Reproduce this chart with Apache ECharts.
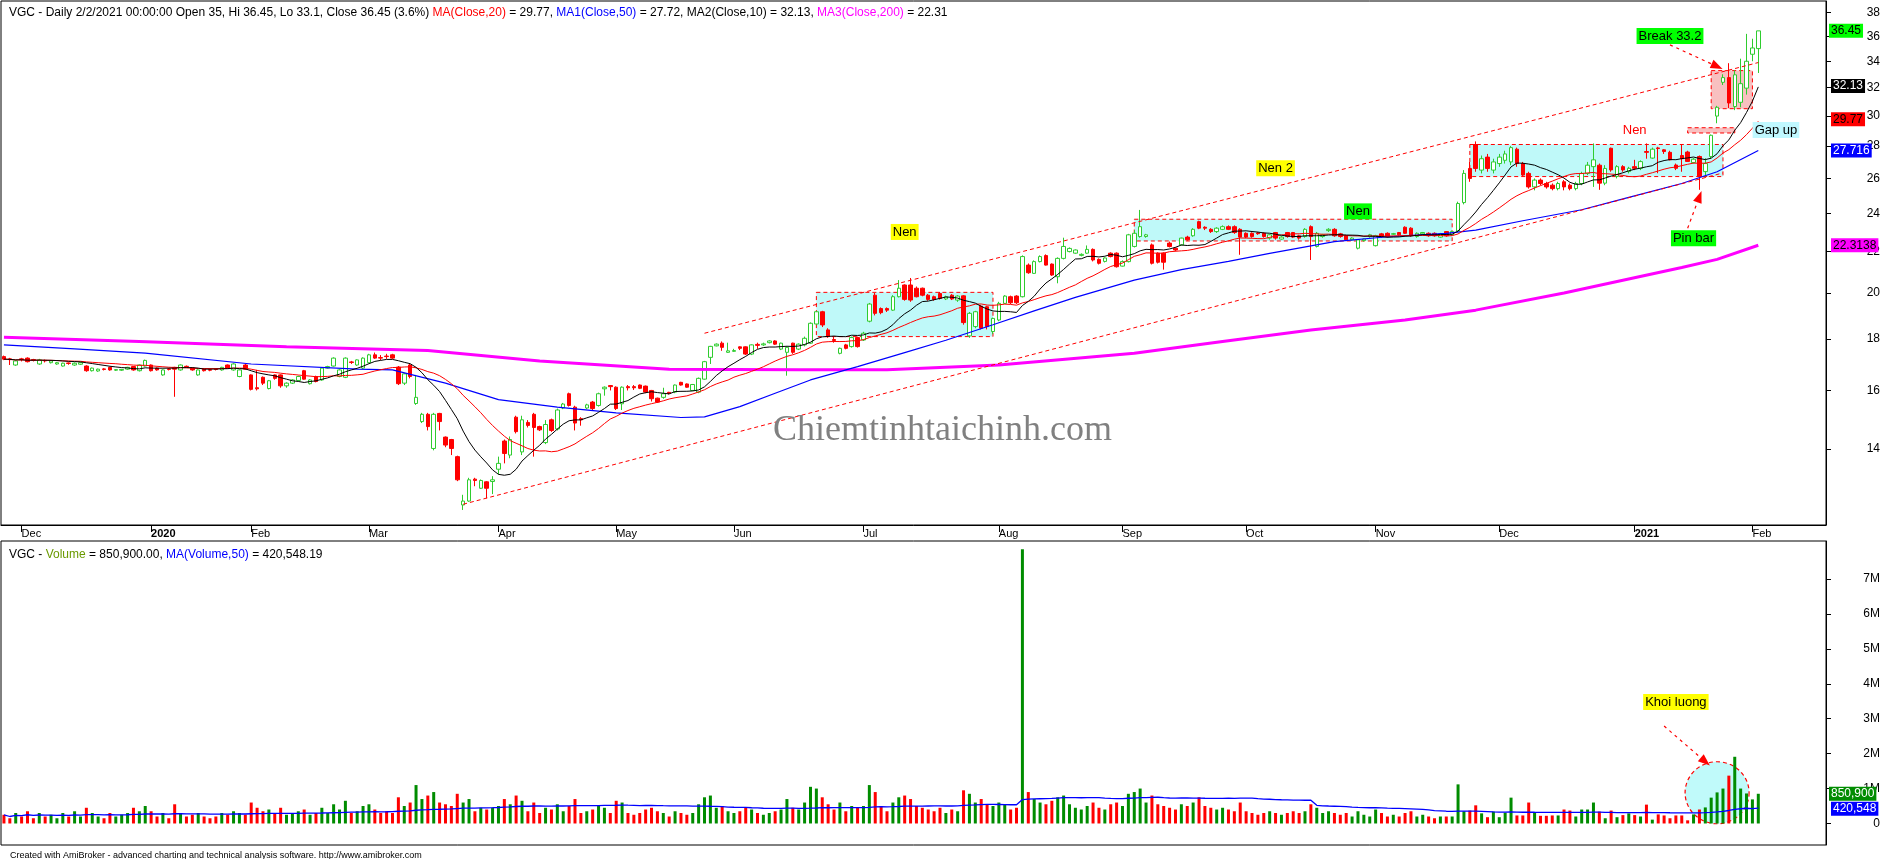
<!DOCTYPE html>
<html><head><meta charset="utf-8">
<script src="https://cdn.jsdelivr.net/npm/echarts@6/dist/echarts.min.js"></script>
<style>html,body{margin:0;padding:0;background:#fff}#c{width:1884px;height:859px}</style>
</head><body><div id="c"></div>
<script>
// ---------------- DATA ----------------
// daily candles [open, close, low, high], 27 Nov 2019 .. 2 Feb 2021
const candles = [
[17.29,17.19,17.15,17.33],[17.2,17.17,16.96,17.24],[16.96,17.12,16.93,17.15],[17.2,17.17,17.1,17.24],[17.23,17.09,17.06,17.26],
[17.17,17.15,17.1,17.2],[17.0,17.16,16.97,17.2],[17.14,17.12,17.06,17.17],[17.05,17.12,17.02,17.15],[17.0,17.05,16.97,17.08],
[16.92,17.03,16.9,17.05],[17.04,17.02,16.97,17.06],[16.96,17.03,16.93,17.06],[16.99,17.05,16.96,17.08],[16.92,16.74,16.7,16.95],
[16.74,16.84,16.71,16.86],[16.73,16.8,16.7,16.82],[16.81,16.79,16.75,16.84],[16.87,16.77,16.74,16.89],[16.76,16.78,16.73,16.8],
[16.76,16.79,16.73,16.81],[16.8,16.87,16.77,16.89],[16.9,16.77,16.74,16.92],[16.74,16.96,16.71,16.98],[16.92,17.14,16.9,17.17],
[16.96,16.74,16.71,16.98],[16.84,16.77,16.74,16.86],[16.58,16.77,16.55,16.79],[16.81,16.79,16.75,16.84],[16.87,16.8,15.77,16.89],
[16.77,16.96,16.74,16.98],[16.91,16.89,16.85,16.94],[16.84,16.77,16.74,16.86],[16.58,16.77,16.55,16.79],[16.8,16.74,16.71,16.82],
[16.78,16.76,16.72,16.8],[16.81,16.79,16.75,16.83],[16.77,16.87,16.74,16.89],[16.96,16.84,16.82,16.98],[16.77,17.0,16.74,17.03],
[16.52,16.77,16.49,16.79],[16.96,16.8,16.77,17.0],[16.58,16.04,16.0,16.6],[16.1,16.06,16.0,16.77],[16.49,16.27,16.2,16.52],
[16.07,16.36,16.04,16.39],[16.58,16.45,16.4,16.6],[16.58,16.17,16.1,16.6],[16.17,16.27,16.1,16.3],[16.27,16.39,16.24,16.42],
[16.37,16.52,16.34,16.55],[16.74,16.42,16.4,16.77],[16.25,16.39,16.22,16.42],[16.52,16.33,16.3,16.55],[16.39,16.84,16.36,16.87],
[16.84,16.9,16.82,16.93],[16.92,17.23,16.9,17.26],[16.52,16.77,16.49,16.8],[16.49,17.23,16.46,17.26],[17.08,17.06,17.0,17.12],
[16.96,17.16,16.93,17.18],[16.84,17.23,16.8,17.26],[17.05,17.36,17.03,17.4],[17.36,17.23,17.2,17.45],[17.25,17.23,17.15,17.35],
[17.31,17.29,17.2,17.4],[17.36,17.23,17.2,17.4],[16.88,16.25,16.2,16.92],[16.27,16.62,16.2,16.65],[16.96,16.52,16.45,17.0],
[15.53,15.75,15.48,16.58],[14.9,15.15,14.85,15.2],[15.15,14.73,14.6,15.2],[14.01,15.15,13.95,15.2],[15.18,14.9,14.6,15.2],
[14.38,14.12,14.05,14.4],[14.3,14.01,13.8,14.32],[13.75,13.04,13.0,13.78],[12.31,12.42,12.17,12.6],[12.42,13.04,12.4,13.1],
[13.06,13.02,12.85,13.1],[12.79,13.02,12.77,13.05],[12.98,12.79,12.5,13.0],[12.99,13.04,12.62,13.15],[13.36,13.54,13.2,13.75],
[14.25,13.85,13.54,14.3],[13.8,14.3,13.7,14.4],[15.05,14.56,14.5,15.1],[13.9,14.96,13.8,15.1],[14.87,14.77,14.7,14.95],
[15.15,14.7,13.75,15.2],[14.73,14.62,14.58,14.76],[14.2,14.8,14.15,14.95],[14.96,14.6,14.55,15.0],[14.65,15.3,14.6,15.35],
[15.37,15.51,15.33,15.55],[15.88,15.46,15.42,15.92],[15.4,14.85,14.6,15.45],[15.0,14.96,14.76,15.05],[15.37,15.48,15.33,15.52],
[15.58,15.35,15.3,15.62],[15.46,15.88,15.42,15.92],[16.06,16.12,15.81,16.15],[16.18,16.14,16.0,16.2],[16.12,15.35,15.3,16.15],
[15.52,16.12,15.3,16.15],[16.14,16.1,16.0,16.2],[16.14,16.1,16.02,16.2],[16.2,16.08,16.05,16.22],[16.16,15.94,15.9,16.18],
[16.0,15.7,15.6,16.02],[15.72,15.58,15.55,15.74],[15.75,15.88,15.7,16.1],[15.93,15.9,15.85,15.95],[15.94,16.2,15.9,16.22],
[16.3,16.2,16.18,16.32],[16.24,16.12,16.1,16.26],[16.0,16.22,15.98,16.24],[15.94,16.45,15.9,16.48],[16.42,17.09,16.4,17.12],
[17.26,17.7,17.0,17.72],[17.72,17.79,17.7,17.82],[17.83,17.66,17.52,17.9],[17.46,17.52,17.44,17.85],[17.5,17.53,17.48,17.6],
[17.68,17.62,17.55,17.7],[17.68,17.39,17.35,17.7],[17.39,17.76,17.35,17.78],[17.78,17.74,17.6,17.85],[17.76,17.8,17.72,17.85],
[17.85,17.92,17.82,17.95],[17.92,17.79,17.76,17.95],[17.59,17.83,17.55,17.85],[17.46,17.66,16.55,17.7],[17.83,17.46,17.4,17.85],
[17.59,17.79,17.55,17.82],[17.76,18.03,17.7,18.1],[17.83,18.66,17.8,18.7],[18.63,19.16,18.6,19.2],[19.16,18.59,18.5,19.2],
[18.38,18.1,18.05,18.45],[17.98,17.94,17.85,18.1],[17.42,17.62,17.38,17.65],[17.76,17.62,17.58,17.8],[17.69,18.06,17.65,18.1],
[18.06,17.69,17.65,18.1],[17.96,18.24,17.92,18.3],[18.75,19.5,18.7,19.55],[19.9,19.09,19.0,20.0],[19.3,19.12,19.05,19.35],
[19.3,19.23,19.15,19.35],[19.23,19.83,19.2,19.9],[19.83,20.22,19.8,20.6],[20.37,19.71,19.65,20.4],[20.37,19.68,19.6,20.7],
[20.22,19.83,19.8,20.3],[20.22,19.9,19.85,20.25],[19.9,19.71,19.65,19.95],[19.83,19.71,19.65,19.88],[19.98,19.75,19.7,20.05],
[19.73,19.83,19.68,19.88],[19.9,19.73,19.68,19.95],[19.68,19.86,19.6,19.9],[19.87,18.69,18.6,19.9],[18.13,19.09,18.05,19.15],
[18.52,19.16,18.45,19.2],[19.41,18.45,18.4,19.45],[19.38,18.52,18.4,19.42],[18.31,18.87,18.2,18.9],[18.8,19.53,18.75,19.6],
[19.53,19.86,19.5,19.9],[19.83,19.56,19.5,19.88],[19.86,19.56,19.5,19.9],[19.83,21.74,19.8,21.8],[21.32,20.95,20.9,21.4],
[20.92,21.49,20.9,21.55],[21.49,21.74,21.45,21.8],[21.79,21.32,21.3,21.85],[21.37,20.84,20.8,21.4],[20.76,21.65,20.45,21.7],
[21.65,22.25,21.6,22.7],[21.99,22.15,21.95,22.2],[21.91,22.07,21.88,22.1],[21.8,21.85,21.75,21.9],[21.91,22.1,21.88,22.3],
[22.1,21.57,21.5,22.15],[21.6,21.41,21.35,21.65],[21.5,21.67,21.45,21.7],[21.91,21.74,21.7,21.95],[21.91,21.24,21.2,21.95],
[21.27,21.49,21.25,21.55],[21.49,22.85,21.45,22.9],[22.25,22.93,22.2,23.1],[22.76,23.28,22.7,24.19],[22.76,22.85,22.7,22.9],
[22.33,21.41,21.35,22.4],[21.91,21.46,21.4,21.95],[21.91,21.46,21.1,21.95],[22.42,22.25,22.2,22.5],[22.16,22.07,22.0,22.2],
[22.33,22.68,22.3,22.7],[22.73,22.59,22.55,22.8],[22.8,23.14,22.75,23.2],[23.55,23.2,23.15,23.6],[23.25,23.2,23.1,23.3],
[23.14,23.02,22.95,23.2],[23.02,23.2,22.95,23.25],[23.14,23.28,23.1,23.35],[23.28,23.14,23.1,23.35],[23.28,22.97,22.9,23.35],
[23.14,22.73,21.83,23.2],[22.93,22.73,22.68,22.98],[22.93,22.76,22.7,22.98],[22.95,22.91,22.85,23.0],[22.93,22.76,22.7,22.98],
[22.68,22.85,22.6,22.9],[22.97,22.68,22.6,23.0],[22.63,22.73,22.6,22.78],[22.97,22.76,22.7,23.0],[22.97,22.73,22.68,23.0],
[22.8,22.68,22.6,22.85],[22.76,23.14,22.7,23.2],[23.28,22.76,21.57,23.35],[22.25,22.93,22.2,23.0],[22.76,22.85,22.7,22.9],
[23.07,23.14,23.0,23.2],[23.14,22.8,22.75,23.2],[22.9,22.76,22.7,22.95],[22.8,22.59,22.55,22.85],[22.59,22.68,22.55,22.72],
[22.16,22.59,22.1,22.63],[22.55,22.63,22.5,22.66],[22.76,22.85,22.7,22.9],[22.29,22.8,22.25,22.85],[22.9,22.76,22.7,22.95],
[22.93,22.76,22.7,22.98],[22.88,22.91,22.85,22.95],[22.97,22.85,22.8,23.0],[23.25,22.93,22.9,23.3],[23.2,22.8,22.75,23.25],
[22.76,22.93,22.7,22.98],[22.9,22.97,22.85,23.0],[22.93,22.8,22.75,22.98],[22.93,22.8,22.75,22.98],[22.73,22.9,22.7,22.95],
[23.02,22.8,22.75,23.05],[22.85,23.02,22.8,23.07],[23.05,24.55,23.0,24.65],[24.6,26.3,24.5,26.5],[26.6,26.0,25.8,27.0],
[28.1,26.6,26.4,28.3],[26.5,27.2,26.3,27.4],[27.3,26.6,26.4,27.5],[26.5,27.0,26.3,27.2],[26.9,27.3,26.7,27.5],
[27.1,27.5,26.9,27.7],[27.0,27.9,26.8,28.0],[27.8,26.9,26.7,27.9],[26.9,26.2,26.1,27.0],[26.3,25.5,25.4,26.4],
[25.5,25.9,25.3,26.0],[25.9,25.7,25.6,26.0],[25.7,25.5,25.4,25.8],[25.6,25.4,25.3,25.7],[25.4,25.7,25.3,25.8],
[25.8,25.5,25.3,25.9],[25.6,25.4,25.3,25.7],[25.4,25.7,25.3,25.8],[25.7,26.3,25.6,26.4],[26.3,26.8,26.2,27.0],
[26.71,27.13,25.5,28.17],[26.8,25.72,25.33,26.9],[25.72,26.6,25.6,26.8],[27.86,26.51,26.4,27.9],[26.11,26.71,26.0,26.8],
[26.71,26.51,26.4,26.8],[26.41,26.61,26.3,26.7],[26.71,26.61,26.5,27.13],[26.61,27.02,26.5,27.1],[27.65,27.6,27.2,28.17],
[27.24,27.8,27.2,27.9],[27.88,27.84,26.31,27.95],[27.76,27.65,27.5,27.8],[27.6,27.13,27.1,27.7],[26.81,26.61,26.5,26.9],
[27.4,27.2,26.4,28.12],[27.62,27.03,27.0,27.7],[26.96,27.17,26.9,27.25],[27.34,26.11,25.33,27.4],[26.41,26.9,26.11,27.23],
[27.34,28.7,27.2,28.75],[29.99,30.6,29.5,30.7],[32.4,32.75,32.2,33.0],[32.75,30.9,30.55,33.85],[30.65,32.96,30.4,33.3],
[30.95,32.3,30.6,34.2],[31.97,34.0,31.5,36.2],[34.55,35.05,34.0,35.8],[35.0,36.45,33.1,36.45]
];

// daily volume, millions of shares
const volumeM = [
0.25,0.15,0.3,0.2,0.35,0.15,0.3,0.2,0.25,0.15,0.3,0.2,0.35,0.2,0.45,0.3,0.2,0.15,0.3,0.2,0.25,0.3,0.45,0.35,0.5,
0.35,0.2,0.3,0.15,0.55,0.3,0.2,0.25,0.3,0.2,0.15,0.2,0.3,0.25,0.35,0.3,0.25,
0.6,0.45,0.35,0.4,0.3,0.45,0.25,0.3,0.35,0.4,0.25,0.3,0.45,0.3,0.55,0.4,0.65,0.3,0.35,0.5,
0.55,0.4,0.3,0.35,0.3,0.75,0.5,0.6,1.1,0.7,0.8,0.9,0.6,0.55,0.5,0.85,0.6,0.7,0.35,0.45,0.4,0.45,
0.5,0.7,0.55,0.8,0.65,0.35,0.6,0.3,0.45,0.4,0.55,0.35,0.5,0.7,0.3,0.35,0.4,0.5,0.45,0.3,
0.65,0.6,0.3,0.25,0.3,0.4,0.45,0.35,0.3,0.2,0.35,0.3,0.25,0.3,0.55,0.75,0.8,0.45,0.5,0.35,
0.3,0.35,0.45,0.4,0.3,0.25,0.3,0.35,0.4,0.7,0.45,0.4,0.6,1.05,1.0,0.75,0.55,0.4,0.6,0.35,0.5,0.45,
0.5,1.1,0.9,0.5,0.35,0.6,0.75,0.8,0.7,0.5,0.45,0.4,0.35,0.45,0.3,0.4,0.35,0.95,0.85,0.6,0.7,0.55,0.5,0.6,0.55,0.4,0.45,
7.85,
0.9,0.7,0.6,0.55,0.65,0.75,0.8,0.55,0.45,0.4,0.5,0.6,0.45,0.4,0.55,0.6,
0.5,0.85,0.9,1.0,0.6,0.8,0.55,0.5,0.45,0.4,0.55,0.5,0.6,0.75,0.5,0.45,0.4,0.45,0.4,0.35,0.6,
0.35,0.3,0.25,0.3,0.35,0.3,0.25,0.3,0.35,0.3,0.35,0.55,0.45,0.3,0.35,0.3,0.25,0.3,0.2,0.35,0.25,0.2,0.4,0.3,0.2,0.25,0.2,0.3,0.35,0.2,0.25,0.2,0.15,0.2,0.2,
0.2,1.12,0.35,0.37,0.52,0.29,0.18,0.34,0.18,0.31,0.74,0.23,0.23,0.6,0.31,0.22,0.22,0.23,0.23,0.4,
0.37,0.2,0.4,0.4,0.6,0.34,0.15,0.37,0.18,0.24,0.29,0.24,0.2,0.54,0.11,0.26,0.23,0.15,0.23,0.23,
0.09,0.26,0.4,0.46,0.74,0.89,1.0,1.37,1.91,1.0,0.86,0.69,0.8509
];

// moving averages: [bar index, value]
const ma50Points = [[0,17.76],[12,17.6],[24,17.43],[42,17.0],[60,16.8],[66,16.77],[75,16.27],[84,15.67],[94,15.4],[104,15.2],[115,15.04],[119,15.06],[125,15.42],[131,15.9],[137,16.39],[145,16.9],[153,17.45],[160,17.95],[168,18.6],[175,19.2],[182,19.8],[192,20.6],[200,21.1],[208,21.5],[215,21.9],[226,22.5],[235,22.75],[245,22.93],[250,23.1],[258,23.6],[268,24.2],[276,24.9],[285,25.7],[291,26.4],[298,27.72]];
const ma200Points = [[0,18.07],[23,17.9],[48,17.68],[72,17.53],[91,17.12],[113,16.8],[135,16.78],[150,16.78],[169,16.96],[192,17.42],[207,17.9],[222,18.38],[238,18.8],[250,19.23],[265,20.0],[285,21.2],[291,21.6],[298,22.31]];

const priceTicks = [14,16,18,20,22,24,26,28,30,32,34,36,38];
const volumeTicks = [0,1e6,2e6,3e6,4e6,5e6,6e6,7e6];
const priceTags = [['36.45',36.45],['32.13',32.13],['29.77',29.77],['27.716',27.716],['22.3138',22.3138]];
const volumeTags = [['850,900',850900],['420,548',420548]];

// annotation geometry in (bar index, value)
const boxes = [[138,20.03,168,18.1],[192,23.68,246,22.53],[249,28.1,292,26.11],[290,33.28,297,30.5],[286,29.2,294,28.85]];
const trendLines = [[[119,18.24],[298,33.9]],[[78,12.33],[292,26.33]]];
const priceArrows = [[[283,35.3],[291,33.6]],[[286,23.2],[288,24.94]]];
const volumeArrows = [[[282,2.79e6],[289,1.77e6]]];
const notes = [['Nen',153,23.0],['Nen 2',216,26.62],['Nen',230,24.11],['Nen',277,29.05],['Break 33.2',283,36.02],['Pin bar',287,22.67],['Gap up',301,29.05]];
const volumeNotes = [['Khoi luong',284,3.48e6]];
const volumeCircle = [291,0.88e6];

const holidays = ['2020-01-01','2020-01-23','2020-01-24','2020-01-27','2020-01-28','2020-01-29','2020-04-02','2020-04-30','2020-05-01','2020-09-02','2021-01-01'];
const firstDay = '2019-11-27';
const blankBars = 11;
const monthNames = ['Jan','Feb','Mar','Apr','May','Jun','Jul','Aug','Sep','Oct','Nov','Dec'];

// ---------------- BUILD ----------------
const nBars = candles.length;
const dates = [];
(function(){
  const d = new Date(firstDay + 'T00:00:00Z');
  while (dates.length < nBars + blankBars) {
    const dow = d.getUTCDay(); const s = d.toISOString().slice(0,10);
    if (dow !== 0 && dow !== 6 && holidays.indexOf(s) < 0) dates.push(s);
    d.setUTCDate(d.getUTCDate() + 1);
  }
})();
const monthStart = dates.map((s,i) => i > 0 && i < nBars && s.slice(0,7) !== dates[i-1].slice(0,7));

function sma(arr, n) {
  const out = []; let sum = 0;
  for (let i = 0; i < arr.length; i++) {
    sum += arr[i]; if (i >= n) sum -= arr[i-n];
    out.push(+(sum / Math.min(i+1, n)).toFixed(4));
  }
  return out;
}
const closes = candles.map(c => c[1]);
const ma10 = sma(closes, 10);
const ma20 = sma(closes, 20);
const volumes = volumeM.map(v => v * 1e6);
const volMa50 = sma(volumes, 50);
function sparse(points) {
  const a = new Array(nBars).fill(null);
  points.forEach(p => { a[p[0]] = p[1]; });
  return a;
}

const FONT = '"Liberation Sans", Arial, sans-serif';
const GREEN_UP = '#2fcc2f';
const W = 1825, LEFT = 1;
const RED_DASH = [4, 3];

function tagLine(label, value, bg, fg, arrow) {
  return {
    yAxis: value,
    symbol: ['none', arrow ? 'triangle' : 'none'],
    symbolSize: [14, 9], symbolRotate: 90,
    itemStyle: { color: bg },
    lineStyle: { color: 'rgba(0,0,0,0)', width: 0 },
    label: { show: true, position: 'end', distance: arrow ? 3 : 5, formatter: label,
      backgroundColor: bg, color: fg, fontSize: 12, fontFamily: FONT, padding: [1, 2, 0, 2], lineHeight: 13 }
  };
}
function noteLabel(bg, fg) {
  return { show: true, position: 'inside', color: fg, backgroundColor: bg || 'transparent',
    fontSize: 13, fontFamily: FONT, padding: [2, 2, 1, 2] };
}
const noteStyles = {
  'Nen|153': ['#ffff00', '#000'], 'Nen 2|216': ['#ffff00', '#000'], 'Nen|230': ['#00ff00', '#000'],
  'Nen|277': [null, '#ff0000'], 'Break 33.2|283': ['#00ff00', '#000'], 'Pin bar|287': ['#00ff00', '#000'],
  'Gap up|301': ['#c0f8ff', '#000']
};
const boxFill = ['#bff9f9', '#bff9f9', '#bff9f9', '#f8c0c0', '#f8c0c0'];

const chart = echarts.init(document.getElementById('c'), null, { renderer: 'canvas' });
const option = {
  animation: false,
  backgroundColor: '#fff',
  title: [
    { left: 4, top: 2, text: '{k|VGC - Daily 2/2/2021 00:00:00 Open 35, Hi 36.45, Lo 33.1, Close 36.45 (3.6%) }{r|MA(Close,20)}{k| = 29.77, }{b|MA1(Close,50)}{k| = 27.72, MA2(Close,10) = 32.13, }{m|MA3(Close,200)}{k| = 22.31}',
      textStyle: { fontSize: 12, fontWeight: 'normal', fontFamily: FONT, rich: {
        k: { color: '#000', fontSize: 12, fontFamily: FONT }, r: { color: '#ff0000', fontSize: 12, fontFamily: FONT },
        b: { color: '#0000ff', fontSize: 12, fontFamily: FONT }, m: { color: '#ff00ff', fontSize: 12, fontFamily: FONT } } } },
    { left: 4, top: 544, text: '{k|VGC - }{g|Volume}{k| = 850,900.00, }{b|MA(Volume,50)}{k| = 420,548.19}',
      textStyle: { fontSize: 12, fontWeight: 'normal', fontFamily: FONT, rich: {
        k: { color: '#000', fontSize: 12, fontFamily: FONT }, g: { color: '#6a9a00', fontSize: 12, fontFamily: FONT },
        b: { color: '#0000ff', fontSize: 12, fontFamily: FONT } } } },
    { left: 5, top: 846, text: 'Created with AmiBroker - advanced charting and technical analysis software. http://www.amibroker.com',
      textStyle: { fontSize: 9, fontWeight: 'normal', color: '#000', fontFamily: FONT } },
    { left: 768, top: 408, text: 'Chiemtinhtaichinh.com',
      textStyle: { fontSize: 36, fontWeight: 'normal', color: '#808080', fontFamily: '"Liberation Serif", "Times New Roman", serif' } }
  ],
  grid: [
    { left: LEFT, top: 1, width: W, height: 524, show: true, borderColor: '#000', borderWidth: 1, backgroundColor: 'transparent' },
    { left: LEFT, top: 541, width: W, height: 304, show: true, borderColor: '#000', borderWidth: 1, backgroundColor: 'transparent' }
  ],
  xAxis: [
    { type: 'category', gridIndex: 0, data: dates, boundaryGap: true,
      axisLine: { show: true, lineStyle: { color: '#000' } },
      axisTick: { show: true, interval: (i) => monthStart[i], alignWithLabel: true, length: 7, lineStyle: { color: '#000' } },
      axisLabel: { show: true, interval: (i) => monthStart[i], align: 'left', margin: 3, fontSize: 11, color: '#000', fontFamily: FONT,
        formatter: (v) => { const m = +v.slice(5,7); return m === 1 ? '{y|' + v.slice(0,4) + '}' : monthNames[m-1]; },
        rich: { y: { fontWeight: 'bold', fontSize: 11, color: '#000', fontFamily: FONT } } },
      splitLine: { show: false } },
    { type: 'category', gridIndex: 1, data: dates, boundaryGap: true,
      axisLine: { show: false }, axisTick: { show: false }, axisLabel: { show: false }, splitLine: { show: false } }
  ],
  yAxis: [
    { type: 'log', gridIndex: 0, position: 'right', min: 11.758, max: 39.03, logBase: 10,
      axisLine: { show: true, lineStyle: { color: '#000' } },
      axisTick: { show: true, customValues: priceTicks, length: 5, lineStyle: { color: '#000' } },
      axisLabel: { show: true, customValues: priceTicks, align: 'right', margin: 54, fontSize: 12, color: '#000', fontFamily: FONT },
      splitLine: { show: false } },
    { type: 'value', gridIndex: 1, position: 'right', min: -616000, max: 8088000,
      axisLine: { show: true, lineStyle: { color: '#000' } },
      axisTick: { show: true, customValues: volumeTicks, length: 5, lineStyle: { color: '#000' } },
      axisLabel: { show: true, customValues: volumeTicks, align: 'right', margin: 54, fontSize: 12, color: '#000', fontFamily: FONT,
        formatter: (v) => v === 0 ? '0' : (v / 1e6) + 'M' },
      splitLine: { show: false } }
  ],
  series: [
    { type: 'line', xAxisIndex: 0, yAxisIndex: 0, data: new Array(nBars).fill(null), silent: true, z: 1, symbol: 'none',
      markArea: { silent: true, data: boxes.map((b, k) => [
        { coord: [dates[b[0]], b[1]], itemStyle: { color: boxFill[k], borderColor: '#ff0000', borderWidth: 1, borderType: RED_DASH } },
        { coord: [dates[b[2]], b[3]] }]) } },
    { type: 'candlestick', name: 'VGC', xAxisIndex: 0, yAxisIndex: 0, data: candles, barWidth: 4, z: 3,
      itemStyle: { color: '#ffffff', color0: '#ff0000', borderColor: GREEN_UP, borderColor0: '#ff0000', borderWidth: 1 } },
    { type: 'line', name: 'MA200', data: sparse(ma200Points), connectNulls: true, symbol: 'none', z: 4,
      lineStyle: { color: '#ff00ff', width: 3 } },
    { type: 'line', name: 'MA50', data: sparse(ma50Points), connectNulls: true, symbol: 'none', z: 4,
      lineStyle: { color: '#0000ff', width: 1.2 } },
    { type: 'line', name: 'MA20', data: ma20, symbol: 'none', z: 4, lineStyle: { color: '#ff0000', width: 1 } },
    { type: 'line', name: 'MA10', data: ma10, symbol: 'none', z: 4, lineStyle: { color: '#000000', width: 1 } },
    { type: 'line', xAxisIndex: 0, yAxisIndex: 0, data: new Array(nBars).fill(null), silent: true, z: 6, symbol: 'none',
      markLine: { silent: true, animation: false,
        data: trendLines.map(t => [
          { coord: [dates[t[0][0]], t[0][1]], symbol: 'none', lineStyle: { color: '#ff0000', width: 1, type: RED_DASH }, label: { show: false } },
          { coord: [dates[t[1][0]], t[1][1]], symbol: 'none' }])
        .concat(priceArrows.map(a => [
          { coord: [dates[a[0][0]], a[0][1]], symbol: 'none', lineStyle: { color: '#ff0000', width: 1.2, type: [3, 4] }, label: { show: false } },
          { coord: [dates[a[1][0]], a[1][1]], symbol: 'triangle', symbolSize: [9, 12], itemStyle: { color: '#ff0000' } }]))
        .concat(priceTags.map((t, k) => tagLine(t[0], t[1],
          ['#00ff00', '#000000', '#ff0000', '#0000ff', '#ff00ff'][k], ['#000', '#fff', '#000', '#fff', '#000'][k], k === 0))) },
      markPoint: { silent: true, symbol: 'rect', symbolSize: 1, itemStyle: { color: 'rgba(0,0,0,0)' },
        data: notes.map(n => { const st = noteStyles[n[0] + '|' + n[1]];
          return { coord: [dates[n[1]], n[2]], value: n[0], label: Object.assign(noteLabel(st[0], st[1]), { formatter: n[0] }) }; }) } },
    { type: 'scatter', xAxisIndex: 1, yAxisIndex: 1, silent: true, z: 1,
      data: [[dates[volumeCircle[0]], volumeCircle[1]]], symbol: 'circle', symbolSize: [64, 62],
      itemStyle: { color: '#c0fafa', borderColor: '#ff0000', borderWidth: 1.2, borderType: [4, 3], opacity: 1 } },
    { type: 'bar', xAxisIndex: 1, yAxisIndex: 1, barWidth: 3, z: 3,
      data: volumes.map((v, i) => ({ value: v, itemStyle: { color: candles[i][1] >= candles[i][0] ? '#008c00' : '#ff0000' } })) },
    { type: 'line', xAxisIndex: 1, yAxisIndex: 1, data: volMa50, symbol: 'none', z: 4, lineStyle: { color: '#0000ff', width: 1.3 } },
    { type: 'line', xAxisIndex: 1, yAxisIndex: 1, data: new Array(nBars).fill(null), silent: true, z: 6, symbol: 'none',
      markLine: { silent: true, animation: false,
        data: volumeArrows.map(a => [
          { coord: [dates[a[0][0]], a[0][1]], symbol: 'none', lineStyle: { color: '#ff0000', width: 1.2, type: [3, 4] }, label: { show: false } },
          { coord: [dates[a[1][0]], a[1][1]], symbol: 'triangle', symbolSize: [9, 12], itemStyle: { color: '#ff0000' } }])
        .concat(volumeTags.map((t, k) => tagLine(t[0], t[1], ['#008c00', '#0000ff'][k], '#fff', k === 0))) },
      markPoint: { silent: true, symbol: 'rect', symbolSize: 1, itemStyle: { color: 'rgba(0,0,0,0)' },
        data: volumeNotes.map(n => ({ coord: [dates[n[1]], n[2]], value: n[0], label: Object.assign(noteLabel('#ffff00', '#000'), { formatter: n[0] }) })) } }
  ]
};
chart.setOption(option);
</script>
</body></html>
